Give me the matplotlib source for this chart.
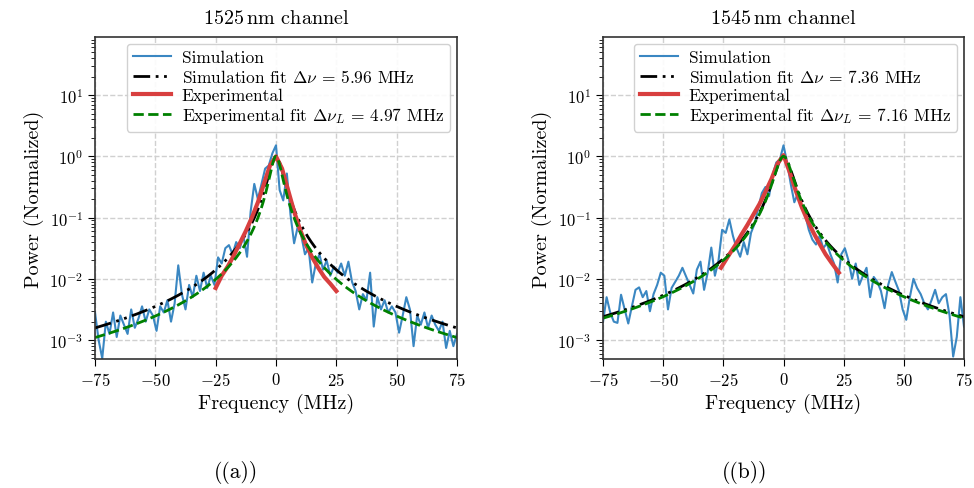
import numpy as np
import matplotlib
matplotlib.use("Agg")
import matplotlib.pyplot as plt

plt.rcParams['font.family'] = 'serif'
plt.rcParams['font.serif'] = ['cmr10']
plt.rcParams['mathtext.fontset'] = 'cm'
plt.rcParams['axes.formatter.use_mathtext'] = True
plt.rcParams['axes.unicode_minus'] = True

# frequency axis of the simulated spectra (MHz)
freq = np.linspace(-75, 75, 101)

# simulated spectra, log10 of normalized power
sim_1525 = [
    -2.55, -3.0, -3.3, -2.7, -2.9, -2.55, -2.95, -2.6, -2.75, -2.9,
    -2.5, -2.8, -2.65, -2.45, -2.7, -2.5, -2.6, -2.85, -2.45, -2.55,
    -2.35, -2.7, -2.4, -1.78, -2.25, -2.5, -2.1, -2.3, -1.95, -2.2,
    -1.9, -2.15, -1.95, -2.1, -1.65, -1.75, -1.5, -1.45, -1.6, -1.4,
    -1.5, -1.3, -1.64, -0.9, -0.45, -0.7, -0.45, -0.2, -0.15, 0.05,
    0.18, -0.55, -0.72, -0.28, -0.95, -1.42, -1.15, -1.3, -1.6, -1.5,
    -2.06, -1.75, -1.6, -1.85, -1.7, -1.95, -1.8, -1.9, -1.75, -1.95,
    -1.72, -2.05, -2.2, -2.5, -2.25, -2.35, -1.9, -2.78, -2.3, -2.5,
    -2.35, -2.55, -2.45, -2.55, -2.88, -2.6, -2.3, -2.5, -3.1, -2.6,
    -2.75, -2.55, -2.8, -2.6, -2.75, -2.85, -2.7, -3.13, -2.85, -3.1,
    -2.9,
]
sim_1545 = [
    -2.7, -2.3, -2.55, -2.7, -2.72, -2.26, -2.5, -2.73, -2.45, -2.18,
    -2.14, -2.3, -2.2, -2.53, -2.25, -2.1, -1.9, -1.95, -2.5, -2.15,
    -2.05, -1.95, -1.82, -1.96, -2.1, -2.24, -1.85, -1.72, -2.18, -1.9,
    -1.49, -1.95, -1.7, -1.2, -1.25, -1.03, -1.3, -1.5, -1.64, -1.4,
    -1.6, -1.25, -1.1, -0.85, -0.6, -0.5, -0.65, -0.3, -0.1, -0.05,
    0.18, -0.1, -0.45, -0.75, -0.6, -0.84, -0.95, -1.2, -1.36, -1.44,
    -1.3, -1.5, -1.42, -1.6, -1.75, -2.06, -1.6, -1.5, -1.7, -2.0,
    -1.75, -2.1, -1.95, -1.82, -2.3, -1.97, -2.05, -2.2, -2.48, -2.1,
    -1.89, -2.05, -2.2, -2.5, -2.67, -2.3, -2.0, -2.15, -2.25, -2.4,
    -2.5, -2.35, -2.18, -2.4, -2.3, -2.25, -2.6, -3.27, -2.95, -2.3,
    -2.78,
]

# measured spectra, log10 of normalized power
exp_freq_1525 = [-25, -22.5, -20, -17.5, -15, -12.5, -10, -7.5, -5, -2.5, 0,
                 2.5, 5, 7.5, 10, 12.5, 15, 17.5, 20, 22.5, 25]
exp_1525 = [-2.15, -1.95, -1.8, -1.62, -1.42, -1.22, -1.0, -0.75, -0.45, -0.15, 0.0,
            -0.2, -0.55, -0.9, -1.2, -1.45, -1.65, -1.82, -1.97, -2.08, -2.2]
exp_freq_1545 = [-26, -22.5, -20, -17.5, -15, -12.5, -10, -7.5, -5, -2.5, 0,
                 2.5, 5, 7.5, 10, 12.5, 15, 17.5, 20, 23]
exp_1545 = [-1.82, -1.6, -1.45, -1.28, -1.12, -0.95, -0.78, -0.58, -0.37, -0.12, 0.02,
            -0.25, -0.55, -0.82, -1.05, -1.25, -1.43, -1.6, -1.74, -1.9]

# Lorentzian linewidths from the fits (MHz)
sim_width = [5.96, 7.36]
exp_width = [4.97, 7.16]
titles = [r'1525$\,$nm channel', r'1545$\,$nm channel']


def lorentz(f, fwhm):
    return 1.0 / (1.0 + (2.0 * f / fwhm) ** 2)


fig = plt.figure(figsize=(9.74, 4.89), dpi=100)
ax1 = fig.add_axes([95 / 974, 1 - 360 / 489, 362 / 974, 322 / 489])
ax2 = fig.add_axes([603 / 974, 1 - 360 / 489, 361 / 974, 322 / 489])

panels = [
    (ax1, sim_1525, exp_freq_1525, exp_1525),
    (ax2, sim_1545, exp_freq_1545, exp_1545),
]
ffit = np.linspace(-75, 75, 601)

for k, (ax, sim, ef, ev) in enumerate(panels):
    ax.plot(freq, 10 ** np.array(sim), color='#3a87c2', lw=1.5, label='Simulation')
    ax.plot(ffit, lorentz(ffit, sim_width[k]), color='black', lw=2,
            dashes=(6, 2, 1, 2, 1, 2),
            label=r'Simulation fit $\Delta\nu$ = %.2f MHz' % sim_width[k])
    ax.plot(ef, 10 ** np.array(ev), color='#d83f3f', lw=3, label='Experimental')
    ax.plot(ffit, lorentz(ffit, exp_width[k]), color='green', lw=2, ls='--',
            label=r'Experimental fit $\Delta\nu_L$ = %.2f MHz' % exp_width[k])

    ax.set_yscale('log')
    ax.set_xlim(-75, 75)
    ax.set_ylim(4.9e-4, 89)
    ax.set_xticks([-75, -50, -25, 0, 25, 50, 75])
    ax.set_yticks([1e-3, 1e-2, 1e-1, 1e0, 1e1])
    ax.grid(True, which='major', ls='--', color='#d0d0d0', lw=1)
    ax.tick_params(labelsize=12, length=5)
    ax.tick_params(which='minor', length=3)
    ax.set_xlabel('Frequency (MHz)', fontsize=14.5)
    ax.set_ylabel('Power (Normalized)', fontsize=14.5)
    ax.set_title(titles[k], fontsize=14.5, pad=10)
    for s in ax.spines.values():
        s.set_color('#333333')
        s.set_linewidth(1.2)
    ax.legend(loc='upper right', fontsize=12.5, handlelength=2.2,
              borderaxespad=0.4, labelspacing=0.15, borderpad=0.35,
              handletextpad=0.6, framealpha=0.9)

fig.text(236 / 974, 1 - 473 / 489, '((a))', ha='center', va='center', fontsize=15.5)
fig.text(745 / 974, 1 - 473 / 489, '((b))', ha='center', va='center', fontsize=15.5)

fig.savefig('out.png', dpi=100)
plt.close(fig)
